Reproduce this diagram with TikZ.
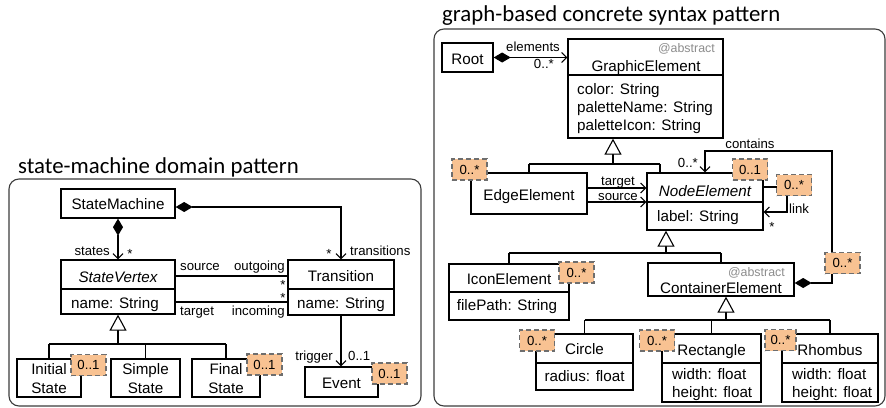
\documentclass[tikz,border=0pt]{standalone}
\usepackage{fontspec}
\setmainfont{Liberation Sans}
\newfontfamily\titlefont{Carlito}
\usetikzlibrary{arrows.meta,fit}
\definecolor{tagfill}{RGB}{248,194,146}
\definecolor{tagborder}{RGB}{110,110,110}
\definecolor{panelgray}{RGB}{60,60,60}
\definecolor{abstractgray}{RGB}{140,140,140}
\newcommand\bxfont{\fontsize{15.2pt}{18pt}\selectfont}
\newcommand\lbfont{\fontsize{13.2pt}{15pt}\selectfont}
\newcommand\abfont{\fontsize{12.4pt}{14pt}\selectfont}
\newcommand\ttlfont{\titlefont\fontsize{22.8pt}{26pt}\selectfont}
\tikzset{
  box/.style={draw, line width=1.3pt, inner sep=0pt, fill=white},
  txt/.style={inner sep=0pt, font=\bxfont, anchor=base},
  lbl/.style={inner sep=0pt, font=\lbfont, anchor=base},
  abs/.style={inner sep=0pt, font=\abfont, text=abstractgray, anchor=base east},
  tag/.style={draw=tagborder, fill=tagfill, dash pattern=on 5pt off 3pt, line width=1.7pt, minimum width=35pt, minimum height=21pt, inner sep=0pt, font=\lbfont},
  conn/.style={line width=1.1pt},
  comp/.style={conn, {Diamond[length=17pt,width=10pt]}-{Straight Barb[length=5pt,width=10pt]}},
  nav/.style={conn, -{Straight Barb[length=5pt,width=10pt]}},
  gen/.style={conn, -{Triangle[open,length=16pt,width=17pt,fill=white]}},
  panel/.style={draw=panelgray, line width=1.1pt, rounded corners=10pt},
  divider/.style={line width=1.3pt},
}
\begin{document}
\begin{tikzpicture}[x=1pt,y=-1pt]
\useasboundingbox (0,0) rectangle (886,407);

% ---------------- left panel ----------------
\node[panel, fit={(9,179)(421,406)}, inner sep=0pt] (panelL) {};
\node[inner sep=0pt, anchor=base west, font=\ttlfont] (titleL) at (18,173) {state-machine domain pattern};

\node[box, fit={(61,189)(175,218)}] (sm) {};
\node[box, fit={(61,260)(175,314)}] (sv) {};
\node[box, fit={(288,260)(394,315)}] (tr) {};
\node[box, fit={(17,359)(81,397)}] (is) {};
\node[box, fit={(111,359)(180,397)}] (ss) {};
\node[box, fit={(192,359)(260,397)}] (fs) {};
\node[box, fit={(305,367)(378,397)}] (ev) {};

\draw[divider] (sv.west |- 0,289) -- (sv.east |- 0,289);
\draw[divider] (tr.west |- 0,289) -- (tr.east |- 0,289);

\node[txt] (smT) at (118,209) {StateMachine};
\node[txt] (svT) at (118,282) {\itshape StateVertex};
\node[txt] (svA) at (115,308.5) {name: String};
\node[txt] (trT) at (341,281.5) {Transition};
\node[txt] (trA) at (341,308.5) {name: String};
\node[txt] (isT1) at (49,374) {Initial};
\node[txt] (isT2) at (49,393) {State};
\node[txt] (ssT1) at (145.5,374) {Simple};
\node[txt] (ssT2) at (145.5,393) {State};
\node[txt] (fsT1) at (226,374) {Final};
\node[txt] (fsT2) at (226,393) {State};
\node[txt] (evT) at (341.5,388) {Event};

% connectors
\draw[comp] (sm.south) -- (sv.north);
\draw[comp] ([yshift=-3.5pt]sm.east) -| (tr.north);
\draw[conn] (sv.east |- 0,276) -- (tr.west |- 0,276);
\draw[conn] (sv.east |- 0,302) -- (tr.west |- 0,302);
\draw[nav] (tr.south) -- (tr.south |- ev.north);
\coordinate (svHub) at (118,344);
\draw[gen] (svHub) -- (sv.south);
\draw[conn] (is.north |- svHub) -- (fs.north |- svHub);
\draw[conn] (is.north |- svHub) -- (is.north);
\draw[conn] (ss.north |- svHub) -- (ss.north);
\draw[conn] (fs.north |- svHub) -- (fs.north);

% labels
\node[lbl, anchor=base east] (lStates) at (110,255) {states};
\node[lbl] (lStatesM) at (130,258) {*};
\node[lbl] (lTransM) at (329,258) {*};
\node[lbl, anchor=base west] (lTrans) at (350,255) {transitions};
\node[lbl, anchor=base west] (lSource) at (180,270) {source};
\node[lbl, anchor=base east] (lOut) at (285,270) {outgoing};
\node[lbl] (lOutM) at (283,289) {*};
\node[lbl] (lInM) at (283,302) {*};
\node[lbl, anchor=base west] (lTarget) at (180,315.5) {target};
\node[lbl, anchor=base east] (lIn) at (285,315.5) {incoming};
\node[lbl, anchor=base east] (lTrig) at (333,360) {trigger};
\node[lbl, anchor=base west] (lTrigM) at (348,360) {0..1};

% tags
\node[tag] (tagIS) at (88.5,365) {0..1};
\node[tag] (tagFS) at (264.5,364.5) {0..1};
\node[tag] (tagEv) at (389.5,373.5) {0..1};

% ---------------- right panel ----------------
\node[panel, fit={(434,29)(885,406)}, inner sep=0pt] (panelR) {};
\node[inner sep=0pt, anchor=base west, font=\ttlfont] (titleR) at (442,21) {graph-based concrete syntax pattern};

\node[box, fit={(442,43)(493,72)}] (root) {};
\node[box, fit={(568,39)(723,138)}] (ge) {};
\node[box, fit={(471,173)(587,214)}] (ee) {};
\node[box, fit={(647,173)(763,230)}] (ne) {};
\node[box, fit={(449,264)(569,320)}] (ie) {};
\node[box, fit={(648,263)(794,296)}] (ce) {};
\node[box, fit={(536,334)(633,390)}] (ci) {};
\node[box, fit={(662,334)(761,402)}] (re) {};
\node[box, fit={(782,334)(878,402)}] (rh) {};

\draw[divider] (ge.west |- 0,75) -- (ge.east |- 0,75);
\draw[divider] (ne.west |- 0,202) -- (ne.east |- 0,202);
\draw[divider] (ie.west |- 0,292) -- (ie.east |- 0,292);
\draw[divider] (ci.west |- 0,363) -- (ci.east |- 0,363);
\draw[divider] (re.west |- 0,363) -- (re.east |- 0,363);
\draw[divider] (rh.west |- 0,363) -- (rh.east |- 0,363);

\node[txt] (rootT) at (467.5,64) {Root};
\node[abs] (geAbs) at (715,52) {@abstract};
\node[txt] (geT) at (646,71.5) {GraphicElement};
\node[txt, anchor=base west] (geA1) at (577,94) {color: String};
\node[txt, anchor=base west] (geA2) at (577,112) {paletteName: String};
\node[txt, anchor=base west] (geA3) at (577,130.5) {paletteIcon: String};
\node[txt] (eeT) at (529,200.5) {EdgeElement};
\node[txt] (neT) at (705,196) {\itshape NodeElement};
\node[txt, anchor=base west] (neA) at (657,221.5) {label: String};
\node[txt] (ieT) at (509,284) {IconElement};
\node[txt] (ieA) at (507,310.5) {filePath: String};
\node[abs] (ceAbs) at (785,276.5) {@abstract};
\node[txt] (ceT) at (721,293) {ContainerElement};
\node[txt] (ciT) at (584.5,354.5) {Circle};
\node[txt] (ciA) at (584.5,381.5) {radius: float};
\node[txt] (reT) at (711.5,355) {Rectangle};
\node[txt, anchor=base west] (reA1) at (672,379) {width: float};
\node[txt, anchor=base west] (reA2) at (672,397.5) {height: float};
\node[txt] (rhT) at (830,355) {Rhombus};
\node[txt, anchor=base west] (rhA1) at (792,379) {width: float};
\node[txt, anchor=base west] (rhA2) at (792,397.5) {height: float};

% connectors
\draw[comp] (root.east) -- (root.east -| ge.west);
\draw[nav] ([yshift=5.5pt]ee.east) -- ([yshift=13.5pt]ne.west);
\draw[nav] ([yshift=-8.5pt]ee.east) -- ([yshift=-0.5pt]ne.west);
\coordinate (contC) at (832,151);
\draw[comp] ([yshift=-3.5pt]ce.east) -| (contC) -| (ne.north);
\coordinate (linkC) at (787,212);
\draw[nav] ([yshift=14.5pt]ne.east) -| (linkC) -- ([yshift=-10.5pt]ne.east);

\coordinate (geHub) at (613,164);
\draw[gen] (geHub) -- (geHub |- ge.south);
\coordinate (neBr) at (660,164);
\draw[conn] (ee.north |- geHub) -- (neBr);
\draw[conn] (ee.north |- geHub) -- (ee.north);
\draw[conn] (neBr) -- (neBr |- ne.north);

\coordinate (neHub) at (666,253);
\draw[gen] (neHub) -- (neHub |- ne.south);
\draw[conn] (ie.north |- neHub) -- (ce.north |- neHub);
\draw[conn] (ie.north |- neHub) -- (ie.north);
\draw[conn] (ce.north |- neHub) -- (ce.north);

\coordinate (ceHub) at (726,320);
\draw[gen] (ceHub) -- (ceHub |- ce.south);
\draw[conn] (ci.north |- ceHub) -- (rh.north |- ceHub);
\draw[conn] (ci.north |- ceHub) -- (ci.north);
\draw[conn] (re.north |- ceHub) -- (re.north);
\draw[conn] (rh.north |- ceHub) -- (rh.north);

% labels
\node[lbl] (lElem) at (533,51.5) {elements};
\node[lbl, anchor=base east] (lElemM) at (554,68) {0..*};
\node[lbl] (lCont) at (750,148) {contains};
\node[lbl, anchor=base east] (lContM) at (698,167) {0..*};
\node[lbl] (lTgt) at (618,185.5) {target};
\node[lbl] (lSrc) at (618,200.5) {source};
\node[lbl, anchor=base west] (lLink) at (789,213.5) {link};
\node[lbl] (lLinkM) at (772,231) {*};

% tags
\node[tag] (tagEE) at (469.5,169.5) {0..*};
\node[tag] (tagNE) at (750,169.5) {0..1};
\node[tag] (tagLink) at (794,185) {0..*};
\node[tag] (tagCont) at (842.5,263) {0..*};
\node[tag] (tagIE) at (576.5,272.5) {0..*};
\node[tag] (tagCi) at (537,340.5) {0..*};
\node[tag] (tagRe) at (657,340.5) {0..*};
\node[tag, minimum width=31pt] (tagRh) at (780.5,340) {0..*};
\end{tikzpicture}
\end{document}
